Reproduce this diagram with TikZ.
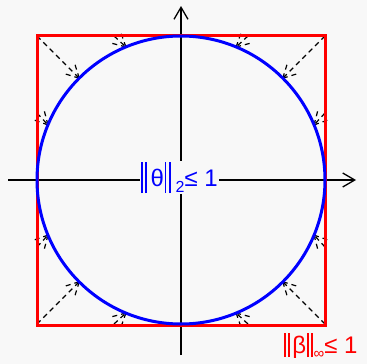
\documentclass[tikz,border=0pt]{standalone}
\usepackage{fontspec}
\setmainfont{Liberation Sans}
\usetikzlibrary{calc,arrows.meta}
\definecolor{bg}{RGB}{248,248,248}
\newcommand\darr[2]{%
  \draw[dline] (#1) -- (#2);
  \draw[dline] ($(#2)!14pt!28:(#1)$) -- (#2);
  \draw[dline] ($(#2)!14pt!-28:(#1)$) -- (#2);
}
\newcommand\nbar[2]{\rule[#1]{1.9pt}{#2}}
\begin{document}
\begin{tikzpicture}[x=1pt,y=-1pt,
  dline/.style={black,line width=1.2pt,dash pattern=on 5pt off 4pt},
  axisline/.style={black,line width=1.3pt,-{Straight Barb[length=12pt,width=14pt,line width=1.3pt]}},
  lbl/.style={inner sep=1.2pt,fill=bg,anchor=base west}]
\fill[bg] (0,0) rectangle (367,364);
\useasboundingbox (0,0) rectangle (367,364);
\coordinate (O) at (181,180);
\coordinate (xl) at (8,180);
\coordinate (xr) at (356,180);
\coordinate (yb) at (181,355);
\coordinate (yt) at (181,6);
\draw[axisline] (xl) -- (xr);
\draw[axisline] (yb) -- (yt);
% dashed arrows
\foreach \sx in {-1,1}{\foreach \sy in {-1,1}{
  \coordinate (c) at ($(O)+(\sx*144,\sy*144)$);
  \coordinate (ct) at ($(O)+(\sx*101.82,\sy*101.82)$);
  \darr{c}{ct}
  \coordinate (s1) at ($(O)+(\sx*144,\sy*67)$);
  \coordinate (t1) at ($(O)+(\sx*133.04,\sy*55.11)$);
  \darr{s1}{t1}
  \coordinate (s2) at ($(O)+(\sx*67,\sy*144)$);
  \coordinate (t2) at ($(O)+(\sx*55.11,\sy*133.04)$);
  \darr{s2}{t2}
}}
\draw[red,line width=3pt] (37,35) rectangle (325,325);
\draw[blue,line width=3pt] (O) circle (144pt);
\node[lbl,text=blue,font=\fontsize{24}{24}\selectfont] (l2) at (139.5,186) {\nbar{-7pt}{31pt}\hspace{2.4pt}\nbar{-7pt}{31pt}\hspace{3.5pt}θ\hspace{0.6pt}\nbar{-7pt}{31pt}\hspace{2.4pt}\nbar{-7pt}{31pt}\hspace{5pt}\raisebox{-6pt}{\fontsize{16}{16}\selectfont 2}≤ 1};
\node[lbl,text=red,font=\fontsize{24}{24}\selectfont] (linf) at (282.5,353) {\nbar{-4pt}{24pt}\hspace{2.2pt}\nbar{-4pt}{24pt}\hspace{2.5pt}β\hspace{0.5pt}\nbar{-4pt}{24pt}\hspace{2.2pt}\nbar{-4pt}{24pt}\hspace{1pt}\raisebox{-5pt}{\fontsize{15}{15}\selectfont ∞}≤ 1};
\end{tikzpicture}
\end{document}
